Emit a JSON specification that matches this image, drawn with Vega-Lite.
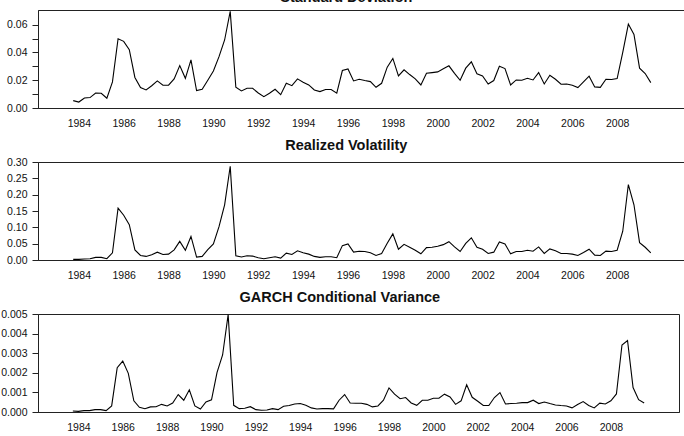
{
  "$schema": "https://vega.github.io/schema/vega-lite/v6.json",
  "background": "white",
  "padding": {"left": 0, "top": -11, "right": 3, "bottom": 0},
  "config": {
    "font": "Liberation Sans",
    "view": {"stroke": "#222", "strokeWidth": 1},
    "axis": {
      "labelFont": "Liberation Sans",
      "labelFontSize": 10.5,
      "labelColor": "#111",
      "domainColor": "#222",
      "tickColor": "#222",
      "grid": false
    },
    "title": {
      "font": "Liberation Sans",
      "fontSize": 14.5,
      "fontWeight": "bold",
      "anchor": "middle",
      "frame": "bounds",
      "offset": 4,
      "color": "#111"
    },
    "line": {"color": "black", "strokeWidth": 1.1},
    "concat": {"spacing": 8}
  },
  "data": {
    "values": [
      {"t": 1983.75, "sd": 0.0053, "rv": 0.002, "garch": 0.00005},
      {"t": 1984.00, "sd": 0.0043, "rv": 0.002, "garch": 0.00003},
      {"t": 1984.25, "sd": 0.0072, "rv": 0.003, "garch": 0.00007},
      {"t": 1984.50, "sd": 0.0075, "rv": 0.004, "garch": 0.00007},
      {"t": 1984.75, "sd": 0.0108, "rv": 0.008, "garch": 0.00012},
      {"t": 1985.00, "sd": 0.0106, "rv": 0.008, "garch": 0.00012},
      {"t": 1985.25, "sd": 0.0070, "rv": 0.004, "garch": 0.00007},
      {"t": 1985.50, "sd": 0.0188, "rv": 0.022, "garch": 0.00031},
      {"t": 1985.75, "sd": 0.0499, "rv": 0.159, "garch": 0.00226},
      {"t": 1986.00, "sd": 0.0480, "rv": 0.137, "garch": 0.00260},
      {"t": 1986.25, "sd": 0.0420, "rv": 0.108, "garch": 0.00197},
      {"t": 1986.50, "sd": 0.0220, "rv": 0.031, "garch": 0.00057},
      {"t": 1986.75, "sd": 0.0147, "rv": 0.014, "garch": 0.00024},
      {"t": 1987.00, "sd": 0.0130, "rv": 0.011, "garch": 0.00017},
      {"t": 1987.25, "sd": 0.0160, "rv": 0.016, "garch": 0.00026},
      {"t": 1987.50, "sd": 0.0195, "rv": 0.024, "garch": 0.00027},
      {"t": 1987.75, "sd": 0.0164, "rv": 0.017, "garch": 0.00039},
      {"t": 1988.00, "sd": 0.0164, "rv": 0.018, "garch": 0.00031},
      {"t": 1988.25, "sd": 0.0210, "rv": 0.031, "garch": 0.00046},
      {"t": 1988.50, "sd": 0.0306, "rv": 0.057, "garch": 0.00089},
      {"t": 1988.75, "sd": 0.0214, "rv": 0.030, "garch": 0.00060},
      {"t": 1989.00, "sd": 0.0347, "rv": 0.072, "garch": 0.00113},
      {"t": 1989.25, "sd": 0.0125, "rv": 0.009, "garch": 0.00031},
      {"t": 1989.50, "sd": 0.0135, "rv": 0.011, "garch": 0.00015},
      {"t": 1989.75, "sd": 0.0200, "rv": 0.032, "garch": 0.00051},
      {"t": 1990.00, "sd": 0.0267, "rv": 0.049, "garch": 0.00062},
      {"t": 1990.25, "sd": 0.0370, "rv": 0.102, "garch": 0.00202},
      {"t": 1990.50, "sd": 0.0490, "rv": 0.169, "garch": 0.00291},
      {"t": 1990.75, "sd": 0.0696, "rv": 0.287, "garch": 0.00497},
      {"t": 1991.00, "sd": 0.0150, "rv": 0.013, "garch": 0.00034},
      {"t": 1991.25, "sd": 0.0123, "rv": 0.009, "garch": 0.00017},
      {"t": 1991.50, "sd": 0.0142, "rv": 0.013, "garch": 0.00019},
      {"t": 1991.75, "sd": 0.0142, "rv": 0.012, "garch": 0.00027},
      {"t": 1992.00, "sd": 0.0108, "rv": 0.007, "garch": 0.00012},
      {"t": 1992.25, "sd": 0.0082, "rv": 0.004, "garch": 0.00009},
      {"t": 1992.50, "sd": 0.0106, "rv": 0.007, "garch": 0.00010},
      {"t": 1992.75, "sd": 0.0135, "rv": 0.010, "garch": 0.00017},
      {"t": 1993.00, "sd": 0.0096, "rv": 0.006, "garch": 0.00012},
      {"t": 1993.25, "sd": 0.0178, "rv": 0.021, "garch": 0.00029},
      {"t": 1993.50, "sd": 0.0161, "rv": 0.017, "garch": 0.00033},
      {"t": 1993.75, "sd": 0.0210, "rv": 0.028, "garch": 0.00041},
      {"t": 1994.00, "sd": 0.0186, "rv": 0.022, "garch": 0.00043},
      {"t": 1994.25, "sd": 0.0166, "rv": 0.018, "garch": 0.00034},
      {"t": 1994.50, "sd": 0.0130, "rv": 0.011, "garch": 0.00021},
      {"t": 1994.75, "sd": 0.0118, "rv": 0.008, "garch": 0.00015},
      {"t": 1995.00, "sd": 0.0133, "rv": 0.010, "garch": 0.00017},
      {"t": 1995.25, "sd": 0.0133, "rv": 0.010, "garch": 0.00017},
      {"t": 1995.50, "sd": 0.0107, "rv": 0.007, "garch": 0.00016},
      {"t": 1995.75, "sd": 0.0270, "rv": 0.044, "garch": 0.00060},
      {"t": 1996.00, "sd": 0.0281, "rv": 0.049, "garch": 0.00089},
      {"t": 1996.25, "sd": 0.0195, "rv": 0.024, "garch": 0.00046},
      {"t": 1996.50, "sd": 0.0207, "rv": 0.027, "garch": 0.00045},
      {"t": 1996.75, "sd": 0.0198, "rv": 0.026, "garch": 0.00045},
      {"t": 1997.00, "sd": 0.0190, "rv": 0.022, "garch": 0.00039},
      {"t": 1997.25, "sd": 0.0149, "rv": 0.014, "garch": 0.00026},
      {"t": 1997.50, "sd": 0.0178, "rv": 0.020, "garch": 0.00031},
      {"t": 1997.75, "sd": 0.0294, "rv": 0.051, "garch": 0.00060},
      {"t": 1998.00, "sd": 0.0357, "rv": 0.080, "garch": 0.00123},
      {"t": 1998.25, "sd": 0.0231, "rv": 0.033, "garch": 0.00091},
      {"t": 1998.50, "sd": 0.0275, "rv": 0.048, "garch": 0.00068},
      {"t": 1998.75, "sd": 0.0241, "rv": 0.039, "garch": 0.00074},
      {"t": 1999.00, "sd": 0.0210, "rv": 0.030, "garch": 0.00046},
      {"t": 1999.25, "sd": 0.0166, "rv": 0.019, "garch": 0.00034},
      {"t": 1999.50, "sd": 0.0250, "rv": 0.038, "garch": 0.00060},
      {"t": 1999.75, "sd": 0.0255, "rv": 0.039, "garch": 0.00060},
      {"t": 2000.00, "sd": 0.0260, "rv": 0.042, "garch": 0.00070},
      {"t": 2000.25, "sd": 0.0282, "rv": 0.047, "garch": 0.00070},
      {"t": 2000.50, "sd": 0.0304, "rv": 0.056, "garch": 0.00091},
      {"t": 2000.75, "sd": 0.0250, "rv": 0.040, "garch": 0.00077},
      {"t": 2001.00, "sd": 0.0200, "rv": 0.026, "garch": 0.00039},
      {"t": 2001.25, "sd": 0.0287, "rv": 0.051, "garch": 0.00057},
      {"t": 2001.50, "sd": 0.0333, "rv": 0.068, "garch": 0.00139},
      {"t": 2001.75, "sd": 0.0246, "rv": 0.039, "garch": 0.00075},
      {"t": 2002.00, "sd": 0.0231, "rv": 0.033, "garch": 0.00055},
      {"t": 2002.25, "sd": 0.0173, "rv": 0.020, "garch": 0.00033},
      {"t": 2002.50, "sd": 0.0198, "rv": 0.024, "garch": 0.00033},
      {"t": 2002.75, "sd": 0.0301, "rv": 0.055, "garch": 0.00074},
      {"t": 2003.00, "sd": 0.0284, "rv": 0.049, "garch": 0.00099},
      {"t": 2003.25, "sd": 0.0166, "rv": 0.019, "garch": 0.00041},
      {"t": 2003.50, "sd": 0.0202, "rv": 0.026, "garch": 0.00043},
      {"t": 2003.75, "sd": 0.0200, "rv": 0.026, "garch": 0.00045},
      {"t": 2004.00, "sd": 0.0214, "rv": 0.030, "garch": 0.00048},
      {"t": 2004.25, "sd": 0.0202, "rv": 0.027, "garch": 0.00048},
      {"t": 2004.50, "sd": 0.0255, "rv": 0.040, "garch": 0.00060},
      {"t": 2004.75, "sd": 0.0173, "rv": 0.020, "garch": 0.00043},
      {"t": 2005.00, "sd": 0.0236, "rv": 0.034, "garch": 0.00051},
      {"t": 2005.25, "sd": 0.0207, "rv": 0.028, "garch": 0.00043},
      {"t": 2005.50, "sd": 0.0171, "rv": 0.020, "garch": 0.00036},
      {"t": 2005.75, "sd": 0.0173, "rv": 0.020, "garch": 0.00033},
      {"t": 2006.00, "sd": 0.0164, "rv": 0.018, "garch": 0.00031},
      {"t": 2006.25, "sd": 0.0147, "rv": 0.014, "garch": 0.00021},
      {"t": 2006.50, "sd": 0.0188, "rv": 0.023, "garch": 0.00038},
      {"t": 2006.75, "sd": 0.0229, "rv": 0.033, "garch": 0.00053},
      {"t": 2007.00, "sd": 0.0152, "rv": 0.015, "garch": 0.00033},
      {"t": 2007.25, "sd": 0.0149, "rv": 0.014, "garch": 0.00021},
      {"t": 2007.50, "sd": 0.0207, "rv": 0.027, "garch": 0.00045},
      {"t": 2007.75, "sd": 0.0205, "rv": 0.026, "garch": 0.00041},
      {"t": 2008.00, "sd": 0.0212, "rv": 0.030, "garch": 0.00057},
      {"t": 2008.25, "sd": 0.0400, "rv": 0.088, "garch": 0.00092},
      {"t": 2008.50, "sd": 0.0605, "rv": 0.231, "garch": 0.00342},
      {"t": 2008.75, "sd": 0.0530, "rv": 0.169, "garch": 0.00365},
      {"t": 2009.00, "sd": 0.0287, "rv": 0.053, "garch": 0.00125},
      {"t": 2009.25, "sd": 0.0248, "rv": 0.039, "garch": 0.00063},
      {"t": 2009.50, "sd": 0.0183, "rv": 0.022, "garch": 0.00046}
    ]
  },
  "vconcat": [
    {
      "title": "Standard Deviation",
      "width": 648,
      "height": 98,
      "mark": {"type": "line"},
      "encoding": {
        "x": {
          "field": "t",
          "type": "quantitative",
          "title": null,
          "scale": {"domain": [1982.18, 2011.07], "nice": false, "zero": false},
          "axis": {"values": [1984, 1986, 1988, 1990, 1992, 1994, 1996, 1998, 2000, 2002, 2004, 2006, 2008], "format": "d", "ticks": false, "labelPadding": 10}
        },
        "y": {
          "field": "sd",
          "type": "quantitative",
          "title": null,
          "scale": {"domain": [0, 0.0706], "nice": false},
          "axis": {
            "values": [0, 0.01, 0.02, 0.03, 0.04, 0.05, 0.06],
            "labelExpr": "round(datum.value * 100) % 2 == 0 ? format(datum.value, '.2f') : ''",
            "tickSize": 6,
            "labelPadding": 5
          }
        }
      }
    },
    {
      "title": "Realized Volatility",
      "width": 648,
      "height": 98,
      "mark": {"type": "line"},
      "encoding": {
        "x": {
          "field": "t",
          "type": "quantitative",
          "title": null,
          "scale": {"domain": [1982.18, 2011.07], "nice": false, "zero": false},
          "axis": {"values": [1984, 1986, 1988, 1990, 1992, 1994, 1996, 1998, 2000, 2002, 2004, 2006, 2008], "format": "d", "ticks": false, "labelPadding": 10}
        },
        "y": {
          "field": "rv",
          "type": "quantitative",
          "title": null,
          "scale": {"domain": [0, 0.3], "nice": false},
          "axis": {
            "values": [0, 0.05, 0.1, 0.15, 0.2, 0.25, 0.3],
            "format": ".2f",
            "tickSize": 6,
            "labelPadding": 5
          }
        }
      }
    },
    {
      "title": "GARCH Conditional Variance",
      "width": 641,
      "height": 98,
      "mark": {"type": "line"},
      "encoding": {
        "x": {
          "field": "t",
          "type": "quantitative",
          "title": null,
          "scale": {"domain": [1982.18, 2011.07], "nice": false, "zero": false},
          "axis": {"values": [1984, 1986, 1988, 1990, 1992, 1994, 1996, 1998, 2000, 2002, 2004, 2006, 2008], "format": "d", "ticks": false, "labelPadding": 10}
        },
        "y": {
          "field": "garch",
          "type": "quantitative",
          "title": null,
          "scale": {"domain": [0, 0.005], "nice": false},
          "axis": {
            "values": [0, 0.001, 0.002, 0.003, 0.004, 0.005],
            "format": ".3f",
            "tickSize": 6,
            "labelPadding": 5
          }
        }
      }
    }
  ]
}
